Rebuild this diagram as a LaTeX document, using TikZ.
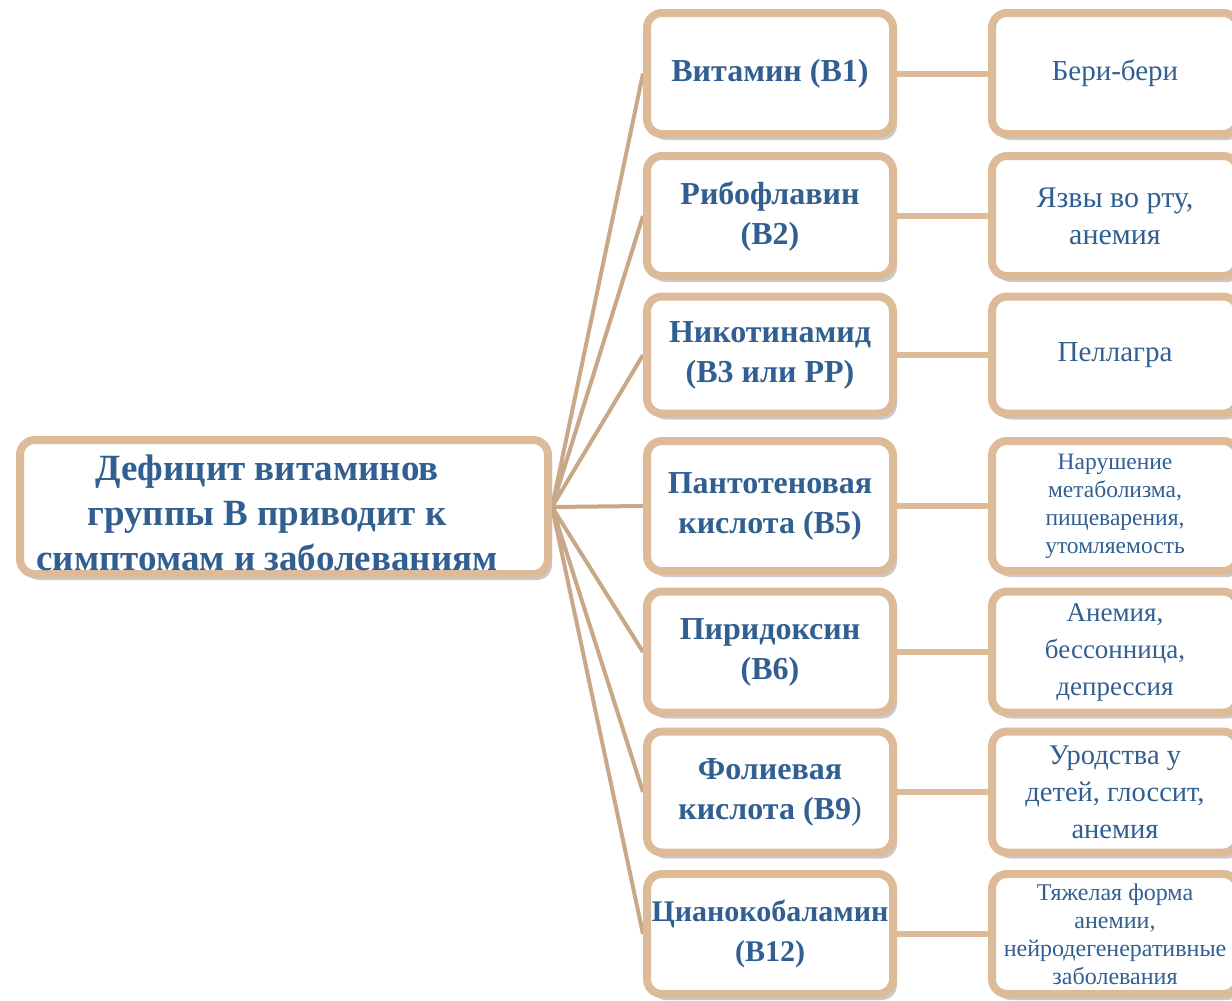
\documentclass[tikz,border=0pt]{standalone}
\usepackage{fontspec}
\setmainfont{Liberation Serif}
\usetikzlibrary{shadows, backgrounds}
\definecolor{boxtan}{RGB}{221,186,152}
\definecolor{fantan}{RGB}{200,168,134}
\definecolor{txtblue}{RGB}{50,95,145}

\begin{document}
\begin{tikzpicture}[x=1pt, y=-1pt,
  box/.style={draw=boxtan, line width=8pt, rounded corners=15pt, fill=white,
    drop shadow={shadow xshift=4pt, shadow yshift=-6pt, opacity=0.28, fill=black!75},
    text=txtblue, align=center, inner sep=0pt, minimum width=246pt},
  vit/.style={box, font=\bfseries\fontsize{32}{40}\selectfont},
  sym/.style={box, font=\fontsize{#1}{37}\selectfont},
  sym/.default=29,
  symsmall/.style={box, font=\fontsize{#1}{28}\selectfont},
  symsmall/.default=23.5,
  fanline/.style={draw=fantan, line width=4pt},
  link/.style={draw=boxtan, line width=6pt}
]
\useasboundingbox (0,0) rectangle (1232,1001);

% Define nodes
\node[box, minimum width=528pt, minimum height=134pt] (root) at (284,507) {};
\node[text=txtblue, align=center, inner sep=0pt,
  font=\bfseries\fontsize{37}{45}\selectfont] (roottext) at (267,513)
  {Дефицит витаминов\\группы B приводит к\\симптомам и заболеваниям};

\path
(770,73.5) node[vit, minimum height=121pt] (B1) {Витамин (B1)}
(770,216) node[vit, minimum height=120pt] (B2) {Рибофлавин\\(B2)}
(770,355) node[vit, minimum height=117pt] (B3) {Никотинамид\\(B3 или PP)}
(770,506) node[vit, minimum height=130pt] (B5) {Пантотеновая\\кислота (B5)}
(770,652) node[vit, minimum height=121pt] (B6) {Пиридоксин\\(B6)}
(770,792) node[vit, minimum height=121pt] (B9) {Фолиевая\\кислота (B9\textmd{)}}
(770,934) node[vit, minimum height=120pt,
  font=\bfseries\fontsize{30}{40}\selectfont] (B12) {Цианокобаламин\\(B12)}
;

\path
(1115,73.5) node[sym, minimum height=121pt] (S1) {Бери-бери}
(1115,216) node[sym=30, minimum height=120pt] (S2) {Язвы во рту,\\анемия}
(1115,355) node[sym, minimum height=117pt] (S3) {Пеллагра}
(1115,506) node[symsmall, minimum height=130pt] (S5) {Нарушение\\метаболизма,\\пищеварения,\\утомляемость}
(1115,652) node[sym=27, minimum height=121pt] (S6) {Анемия,\\бессонница,\\депрессия}
(1115,792) node[sym=28.5, minimum height=121pt] (S9) {Уродства у\\детей, глоссит,\\анемия}
(1115,934) node[symsmall=24, minimum height=120pt] (S12) {Тяжелая форма\\анемии,\\нейродегенеративные\\заболевания}
;

\begin{scope}[on background layer]
\draw[fanline]
(root.east) -- (B1.west)
(root.east) -- (B2.west)
(root.east) -- (B3.west)
(root.east) -- (B5.west)
(root.east) -- (B6.west)
(root.east) -- (B9.west)
(root.east) -- (B12.west)
;
\draw[link]
(B1) -- (S1)
(B2) -- (S2)
(B3) -- (S3)
(B5) -- (S5)
(B6) -- (S6)
(B9) -- (S9)
(B12) -- (S12)
;
\end{scope}

\end{tikzpicture}
\end{document}
